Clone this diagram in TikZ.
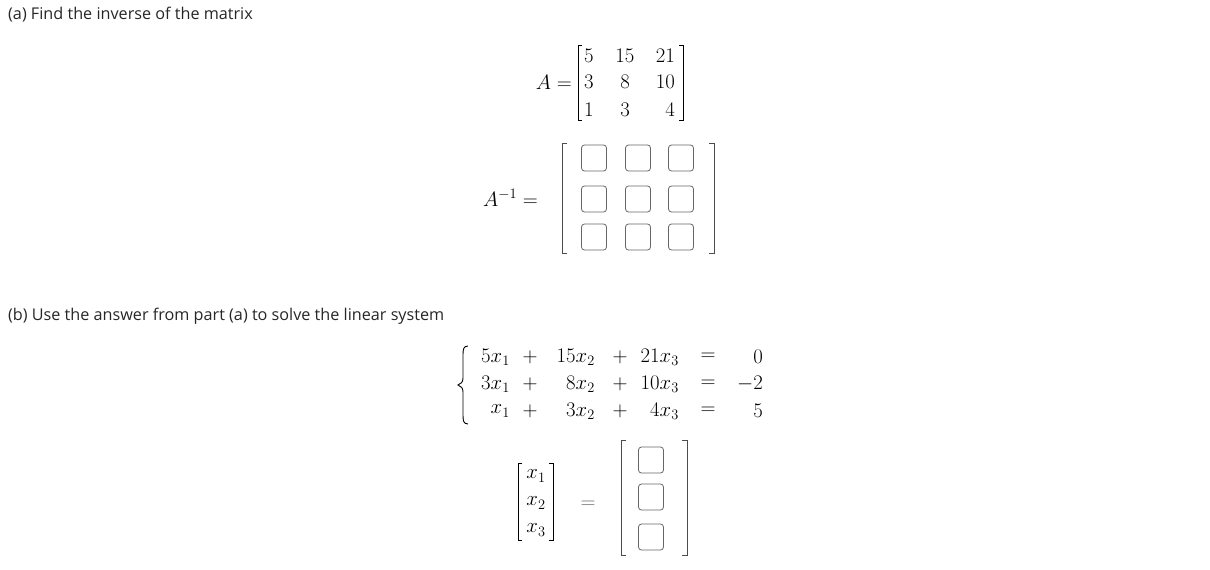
\documentclass[tikz,border=0pt]{standalone}
\usepackage{fontspec}
\newfontfamily\uifont{Open Sans}
\begin{document}
\begin{tikzpicture}[x=1pt,y=-1pt,
  lbl/.style={font=\uifont\fontsize{16.2}{19}\selectfont, anchor=west, text=black!85, inner sep=0},
  mt/.style={font=\fontsize{21}{24}\selectfont, inner sep=0},
  br/.style={line width=0.8pt},
  box/.style={draw=black!60, line width=0.8pt, rounded corners=3pt, minimum width=25pt, minimum height=26pt, inner sep=0},
  brk/.style={line width=0.8pt, black!70}]
\useasboundingbox (0,0) rectangle (1210,570);
\node[lbl] (ta) at (8,15) {(a) Find the inverse of the matrix};
\node[lbl] (tb) at (8,316) {(b) Use the answer from part (a) to solve the linear system};
% A matrix
\node[mt, anchor=east] (aeq) at (572,82) {$A =$};
\draw[br] (582,45) -- (578,45) -- (578,120) -- (582,120);
\draw[br] (679,45) -- (683,45) -- (683,120) -- (679,120);
\foreach \r/\y/\a/\b/\c in {1/56/5/15/21, 2/82/3/8/10, 3/110/1/3/4}{
  \node[mt, anchor=west] (a\r1) at (584,\y) {$\a$};
  \node[mt] (a\r2) at (625,\y) {$\b$};
  \node[mt, anchor=east] (a\r3) at (675,\y) {$\c$};
}
% inverse
\node[mt, anchor=east] (ainv) at (538,198) {$A^{-1} =$};
\draw[brk] (567,143) -- (562,143) -- (562,253) -- (567,253);
\draw[brk] (709,143) -- (714,143) -- (714,253) -- (709,253);
\foreach \i/\y in {1/158,2/199,3/237}{
  \foreach \j/\x in {1/594,2/638,3/681}{
    \node[box] (b\i\j) at (\x,\y) {};
  }
}
% system brace
\coordinate (bt) at (468,346);
\coordinate (bb) at (468,424);
\draw[line width=0.9pt] (bt) .. controls (463,346) and (463,350) .. (463,356)
  -- (463,378) .. controls (463,382) and (461,384) .. (458,385)
  .. controls (461,386) and (463,388) .. (463,392) -- (463,414)
  .. controls (463,420) and (463,424) .. (bb);
\foreach \r/\y/\p/\q/\s/\v in {1/357/5x_1/15x_2/21x_3/0, 2/384/3x_1/8x_2/10x_3/-2, 3/411/x_1/3x_2/4x_3/5}{
  \node[mt, anchor=east] (s\r1) at (510,\y) {$\p$};
  \node[mt] (s\r2) at (530,\y) {$+$};
  \node[mt, anchor=east] (s\r3) at (595,\y) {$\q$};
  \node[mt] (s\r4) at (620,\y) {$+$};
  \node[mt, anchor=east] (s\r5) at (679,\y) {$\s$};
  \node[mt] (s\r6) at (708,\y) {$=$};
  \node[mt, anchor=east] (s\r7) at (763,\y) {$\v$};
}
% x vector
\draw[br] (522,463) -- (518,463) -- (518,540) -- (522,540);
\draw[br] (549,463) -- (553,463) -- (553,540) -- (549,540);
\node[mt] (x1) at (536,476) {$x_1$};
\node[mt] (x2) at (536,503) {$x_2$};
\node[mt] (x3) at (536,530) {$x_3$};
\node[mt, text=black!60] (xeq) at (588,505) {$=$};
\draw[brk] (626,440) -- (621,440) -- (621,555) -- (626,555);
\draw[brk] (682,440) -- (687,440) -- (687,555) -- (682,555);
\node[box] (c1) at (651,460) {};
\node[box] (c2) at (651,497) {};
\node[box] (c3) at (651,537) {};
\end{tikzpicture}
\end{document}
